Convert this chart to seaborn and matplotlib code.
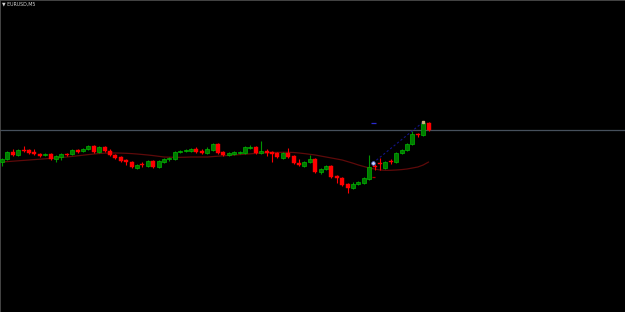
import numpy as np
import pandas as pd
import matplotlib
matplotlib.use("Agg")
import matplotlib.pyplot as plt
import seaborn as sns

# ---------------- data (EURUSD, M5) ----------------
symbol_label = "EURUSD,M5"

opens = [1.0838, 1.0841, 1.0848, 1.0845, 1.0850, 1.0850, 1.0848, 1.0846, 1.0845, 1.0846,
         1.0841, 1.0843, 1.0846, 1.0846, 1.0850, 1.0849, 1.0851, 1.0854, 1.0848, 1.0853,
         1.0849, 1.0845, 1.0843, 1.0840, 1.0838, 1.0832, 1.0836, 1.0834, 1.0839, 1.0833,
         1.0838, 1.0841, 1.0841, 1.0848, 1.0849, 1.0849, 1.0851, 1.0849, 1.0847, 1.0850,
         1.0856, 1.0848, 1.0845, 1.0846, 1.0847, 1.0847, 1.0852, 1.0853, 1.0847, 1.0849,
         1.0848, 1.0847, 1.0842, 1.0847, 1.0844, 1.0837, 1.0834, 1.0838, 1.0841, 1.0828,
         1.0831, 1.0834, 1.0824, 1.0822, 1.0816, 1.0812, 1.0816, 1.0817, 1.0821, 1.0834,
         1.0837, 1.0832, 1.0839, 1.0838, 1.0847, 1.0850, 1.0856, 1.0866, 1.0865, 1.0877]

closes = [1.0841, 1.0848, 1.0845, 1.0850, 1.0849, 1.0847, 1.0846, 1.0844, 1.0846, 1.0841,
          1.0844, 1.0846, 1.0845, 1.0850, 1.0848, 1.0851, 1.0854, 1.0848, 1.0853, 1.0849,
          1.0845, 1.0842, 1.0839, 1.0838, 1.0833, 1.0835, 1.0835, 1.0839, 1.0833, 1.0839,
          1.0841, 1.0842, 1.0848, 1.0849, 1.0850, 1.0851, 1.0848, 1.0847, 1.0851, 1.0856,
          1.0847, 1.0845, 1.0847, 1.0848, 1.0848, 1.0853, 1.0853, 1.0847, 1.0849, 1.0847,
          1.0846, 1.0843, 1.0847, 1.0843, 1.0837, 1.0835, 1.0838, 1.0841, 1.0828, 1.0831,
          1.0834, 1.0823, 1.0822, 1.0815, 1.0812, 1.0816, 1.0818, 1.0822, 1.0833, 1.0833,
          1.0836, 1.0838, 1.0838, 1.0847, 1.0850, 1.0856, 1.0866, 1.0865, 1.0877, 1.0870]

highs = [1.0842, 1.0849, 1.0851, 1.0851, 1.0854, 1.0851, 1.0851, 1.0847, 1.0847, 1.0847,
         1.0845, 1.0847, 1.0847, 1.0851, 1.0851, 1.0852, 1.0855, 1.0855, 1.0854, 1.0854,
         1.0851, 1.0846, 1.0844, 1.0841, 1.0839, 1.0836, 1.0838, 1.0840, 1.0840, 1.0840,
         1.0842, 1.0843, 1.0849, 1.0850, 1.0851, 1.0852, 1.0853, 1.0851, 1.0853, 1.0857,
         1.0857, 1.0849, 1.0848, 1.0849, 1.0849, 1.0854, 1.0855, 1.0854, 1.0859, 1.0851,
         1.0849, 1.0848, 1.0848, 1.0852, 1.0845, 1.0841, 1.0839, 1.0845, 1.0842, 1.0832,
         1.0835, 1.0835, 1.0825, 1.0823, 1.0817, 1.0818, 1.0819, 1.0823, 1.0845, 1.0836,
         1.0842, 1.0839, 1.0841, 1.0848, 1.0851, 1.0857, 1.0869, 1.0867, 1.0879, 1.0878]

lows = [1.0834, 1.0840, 1.0844, 1.0844, 1.0848, 1.0846, 1.0845, 1.0843, 1.0844, 1.0840,
        1.0838, 1.0840, 1.0844, 1.0845, 1.0847, 1.0848, 1.0850, 1.0847, 1.0847, 1.0848,
        1.0844, 1.0841, 1.0838, 1.0835, 1.0832, 1.0831, 1.0833, 1.0833, 1.0832, 1.0832,
        1.0837, 1.0839, 1.0840, 1.0847, 1.0848, 1.0848, 1.0847, 1.0846, 1.0846, 1.0849,
        1.0846, 1.0844, 1.0844, 1.0845, 1.0846, 1.0846, 1.0851, 1.0846, 1.0846, 1.0844,
        1.0838, 1.0842, 1.0841, 1.0842, 1.0836, 1.0834, 1.0833, 1.0837, 1.0827, 1.0826,
        1.0830, 1.0822, 1.0817, 1.0814, 1.0807, 1.0811, 1.0815, 1.0816, 1.0820, 1.0830,
        1.0830, 1.0831, 1.0836, 1.0837, 1.0846, 1.0849, 1.0855, 1.0863, 1.0864, 1.0869]

moving_average = [1.08380, 1.08384, 1.08388, 1.08392, 1.08396, 1.08400, 1.08404, 1.08408, 1.08412, 1.08416,
                  1.08420, 1.08425, 1.08430, 1.08436, 1.08442, 1.08448, 1.08454, 1.08460, 1.08465, 1.08468,
                  1.08470, 1.08470, 1.08469, 1.08467, 1.08464, 1.08460, 1.08455, 1.08450, 1.08444, 1.08437,
                  1.08430, 1.08428, 1.08427, 1.08427, 1.08428, 1.08430, 1.08430, 1.08430, 1.08430, 1.08434,
                  1.08438, 1.08442, 1.08446, 1.08450, 1.08454, 1.08458, 1.08462, 1.08466, 1.08470, 1.08472,
                  1.08475, 1.08476, 1.08477, 1.08477, 1.08475, 1.08470, 1.08464, 1.08457, 1.08450, 1.08440,
                  1.08430, 1.08420, 1.08410, 1.08400, 1.08384, 1.08368, 1.08350, 1.08335, 1.08320, 1.08310,
                  1.08300, 1.08297, 1.08297, 1.08300, 1.08304, 1.08310, 1.08320, 1.08330, 1.08350, 1.08380]

bid_price = 1.0870
trade_open_bar = 68.7
trade_open_price = 1.0837
trade_close_bar = 78.0
trade_close_price = 1.0878
take_profit = 1.0877
stop_loss = 1.0823

# ---------------- figure ----------------
sns.set_theme(style="dark", rc={"axes.facecolor": "black", "figure.facecolor": "black"})
fig = plt.figure(figsize=(6.25, 3.12), dpi=100)
ax = fig.add_axes([0, 0, 1, 1])
ax.set_facecolor("black")

df = pd.DataFrame({"bar": np.arange(len(opens)), "open": opens, "close": closes,
                   "high": highs, "low": lows, "ma": moving_average})
bull = df["close"] >= df["open"]

green_face = "#007a00"
green_edge = "#00b400"
red = "#ff0000"

# wicks
ax.vlines(df.loc[bull, "bar"], df.loc[bull, "low"], df.loc[bull, "high"],
          color="#009400", linewidth=0.8, zorder=2)
ax.vlines(df.loc[~bull, "bar"], df.loc[~bull, "low"], df.loc[~bull, "high"],
          color=red, linewidth=0.8, zorder=2)

# bodies
min_h = 0.00009
body_bottom = np.minimum(df["open"], df["close"])
body_h = np.maximum(np.abs(df["close"] - df["open"]), min_h)
ax.bar(df.loc[bull, "bar"], body_h[bull], bottom=body_bottom[bull], width=0.72,
       color=green_face, edgecolor=green_edge, linewidth=0.5, zorder=3)
ax.bar(df.loc[~bull, "bar"], body_h[~bull], bottom=body_bottom[~bull], width=0.72,
       color=red, edgecolor=red, linewidth=0.3, zorder=3)

# moving average
sns.lineplot(data=df, x="bar", y="ma", ax=ax, color="#5e0a0a", linewidth=0.9, zorder=1)

# bid line
ax.axhline(bid_price, color="#46505c", linewidth=0.9, zorder=0)

# trade markers
ax.plot([trade_open_bar, trade_close_bar], [trade_open_price, trade_close_price],
        linestyle=(0, (2, 2)), color="#141488", linewidth=0.8, zorder=4)
ax.plot([trade_open_bar], [trade_open_price], marker="o", markersize=2.6,
        markerfacecolor="#c8d8ff", markeredgecolor="#5a6ad0", markeredgewidth=0.5, zorder=5)
ax.plot([trade_close_bar], [trade_close_price], marker="s", markersize=2.0,
        color="#c8b078", zorder=5)
ax.hlines([take_profit], trade_open_bar - 0.3, trade_open_bar + 0.5, color="#2a2ad0", linewidth=0.9, zorder=4)
ax.hlines([stop_loss], trade_open_bar - 0.2, trade_open_bar + 0.3, color="#b00000", linewidth=0.9, zorder=4)

# limits (no price / time scale visible)
ax.set_xlim(-2 / 5.4, 623 / 5.4)
ax.set_ylim(1.0688, 1.1000)
ax.set_xticks([])
ax.set_yticks([])
ax.set_xlabel("")
ax.set_ylabel("")
for s in ax.spines.values():
    s.set_visible(True)
    s.set_color("#505050")
    s.set_linewidth(0.6)

ax.text(0.004, 0.987, "\u25BC " + symbol_label, transform=ax.transAxes,
        fontsize=3.4, color="#d0d0d0", va="center", ha="left", family="DejaVu Sans")

fig.savefig("out.png", dpi=100, facecolor="black")
